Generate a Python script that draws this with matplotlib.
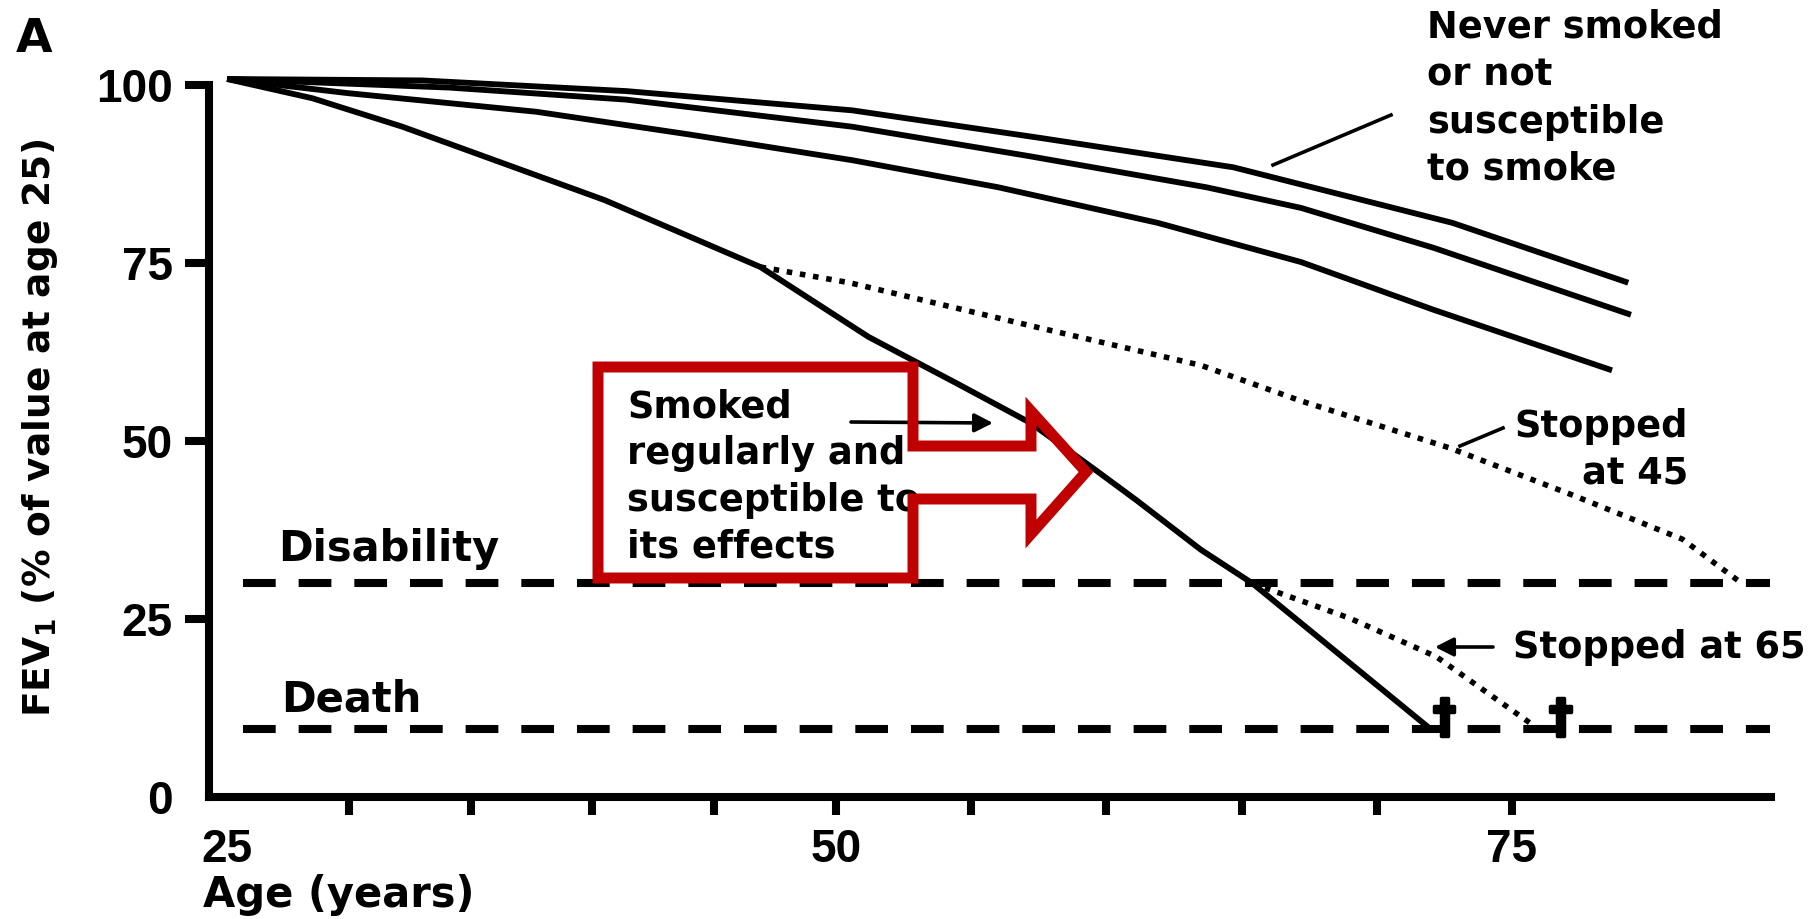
import numpy as np
import matplotlib
matplotlib.use("Agg")
import matplotlib.pyplot as plt
import matplotlib.patheffects as pe
from matplotlib.patches import Polygon, FancyArrowPatch
from matplotlib.lines import Line2D
from matplotlib.transforms import Affine2D

# ---- data: FEV1 (% of value at age 25) against age (years) ----
never_age = [25, 33.0, 41.4, 50.6, 57.6, 64.7, 72.8, 79.3]
never_fev = [100.8, 100.6, 99.1, 96.4, 92.5, 88.4, 80.6, 72.2]

second_age = [25, 34.1, 41.4, 50.6, 57.1, 63.7, 67.2, 72.1, 79.4]
second_fev = [100.8, 99.6, 97.9, 94.1, 90.0, 85.6, 82.7, 77.1, 67.7]

third_age = [25, 30, 37.7, 44, 50.6, 56, 61.9, 67.2, 72.1, 78.7]
third_fev = [100.8, 98.8, 96.2, 93.0, 89.4, 85.6, 80.6, 75.1, 68.4, 59.9]

smoker_age = [25, 28.5, 32.2, 40.5, 46.9, 51.2, 54.5, 57.2, 59.6, 61.1, 63.5, 65.4, 72.0]
smoker_fev = [100.8, 98.1, 94.1, 83.8, 74.4, 64.6, 58.0, 52.5, 45.9, 41.7, 34.7, 30.0, 9.5]

stop45_age = [46.9, 50.5, 57.6, 63.5, 67.2, 72.7, 77.3, 81.3, 83.5]
stop45_fev = [74.4, 72.2, 65.8, 60.6, 55.6, 49.0, 42.3, 36.2, 30.0]

stop65_age = [65.4, 69.0, 72.2, 76.0]
stop65_fev = [30.0, 25.1, 19.7, 9.5]

DISABILITY = 30
DEATH = 9.5
death_ages = [72.5, 76.8]

x_ticks = [25, 30, 35, 40, 45, 50, 55, 60, 65, 70, 75]
x_labels = ["25", "", "", "", "", "50", "", "", "", "", "75"]
y_ticks = [0, 25, 50, 75, 100]
y_labels = ["0", "25", "50", "75", "100"]

# the age axis is drawn slightly wider per year after 50
age_knots = [20, 25, 50, 75, 90]
axis_pos = [-121.8, 0, 609, 1285, 1690.6]


def fwd(a):
    return np.interp(a, age_knots, axis_pos)


def inv(p):
    return np.interp(p, axis_pos, age_knots)


W, H = 1815, 919
fig = plt.figure(figsize=(W / 100, H / 100), dpi=100)
fig.patch.set_facecolor("white")
ax = fig.add_axes([209 / W, 1 - 797 / H, (1771 - 209) / W, (797 - 84.7) / H])
ax.set_xscale("function", functions=(fwd, inv))
ax.set_xlim(24.26, 84.58)
ax.set_ylim(0, 100)

# pixel-space transform (origin top-left) for annotations
px = Affine2D().scale(1 / W, -1 / H).translate(0, 1) + fig.transFigure

solid = dict(color="black", lw=4.2, solid_capstyle="butt", clip_on=False, zorder=3)
ax.plot(never_age, never_fev, **solid)
ax.plot(second_age, second_fev, **solid)
ax.plot(third_age, third_fev, **solid)
ax.plot(smoker_age, smoker_fev, **solid)

dotted = dict(color="black", lw=4.0, dashes=(1, 1.4), dash_capstyle="butt",
              clip_on=False, zorder=3)
ax.plot(stop45_age, stop45_fev, **dotted)
ax.plot(stop65_age, stop65_fev, **dotted)

dash = dict(color="black", lw=5.8, dashes=(4.06, 2.85), dash_capstyle="butt",
            clip_on=False, zorder=2)
ax.plot([25.66, 84.54], [DISABILITY, DISABILITY], **dash)
ax.plot([25.66, 84.54], [DEATH, DEATH], **dash)

# axes styling
for s in ("top", "right"):
    ax.spines[s].set_visible(False)
for s in ("left", "bottom"):
    ax.spines[s].set_linewidth(5.8)
ax.set_xticks(x_ticks)
ax.set_xticklabels(x_labels)
ax.set_yticks(y_ticks)
ax.set_yticklabels(y_labels)
ax.tick_params(axis="x", length=13, width=5.8, pad=9, labelsize=33)
ax.tick_params(axis="y", length=17, width=5.8, pad=9, labelsize=33)
for lab in ax.get_xticklabels() + ax.get_yticklabels():
    lab.set_fontfamily("Liberation Sans")
    lab.set_fontweight("bold")
ax.xaxis.get_major_ticks()[0].tick1line.set_visible(False)
ax.yaxis.get_major_ticks()[0].tick1line.set_visible(False)

txt = dict(transform=px, fontweight="bold", family="DejaVu Sans", va="baseline",
           color="black")

fig.text(16, 52, "A", fontsize=34, **txt)
fig.text(203, 895, "Age (years)", fontsize=30, ha="left",
         **{**txt, "va": "center"})
fig.text(40, 428, r"FEV$_\mathbf{1}$ (% of value at age 25)", fontsize=27,
         rotation=90, ha="center", **{**txt, "va": "center"})

for s, yb in zip(["Never smoked", "or not", "susceptible", "to smoke"],
                 [38, 85, 133, 180]):
    fig.text(1427, yb, s, fontsize=26.5, ha="left", **txt)
fig.text(1688, 437, "Stopped", fontsize=26.5, ha="right", **txt)
fig.text(1688, 483, "at 45", fontsize=26.5, ha="right", **txt)
fig.text(1513, 658, "Stopped at 65", fontsize=26.5, ha="left", **txt)
fig.text(278, 561, "Disability", fontsize=30, ha="left", **txt)
fig.text(281, 712, "Death", fontsize=30, ha="left", **txt)
for s, yb in zip(["Smoked", "regularly and", "susceptible to", "its effects"],
                 [417, 464, 511, 558]):
    fig.text(627, yb, s, fontsize=26.5, ha="left", **txt)

for a in death_ages:
    ax.text(a, 11.0, "\u2020", fontsize=33, fontweight="bold",
            family="DejaVu Sans", ha="center", va="center", zorder=4,
            path_effects=[pe.withStroke(linewidth=2.5, foreground="black")])

# pointer strokes
fig.add_artist(Line2D([1391, 1273], [115, 165], transform=px, color="black", lw=2.6))
fig.add_artist(Line2D([1503, 1460], [428, 446], transform=px, color="black", lw=2.6))
for (x0, y0), (x1, y1) in [((1493, 647), (1435, 647)), ((851, 422), (993, 423))]:
    fig.add_artist(FancyArrowPatch((x0, y0), (x1, y1), transform=px,
                                   arrowstyle="-|>,head_length=0.55,head_width=0.28",
                                   mutation_scale=20, lw=2.6, color="black",
                                   shrinkA=0, shrinkB=0, zorder=5))

# red callout box with arrow
outline = [(598, 367), (913, 367), (913, 446), (1031, 446), (1031, 411),
           (1086, 472), (1031, 534), (1031, 499), (913, 499), (913, 578),
           (598, 578)]
fig.add_artist(Polygon(outline, closed=True, fill=False, edgecolor="#C00000",
                       lw=7.9, joinstyle="miter", transform=px, zorder=10))

fig.savefig("out.png", dpi=100, facecolor="white")
